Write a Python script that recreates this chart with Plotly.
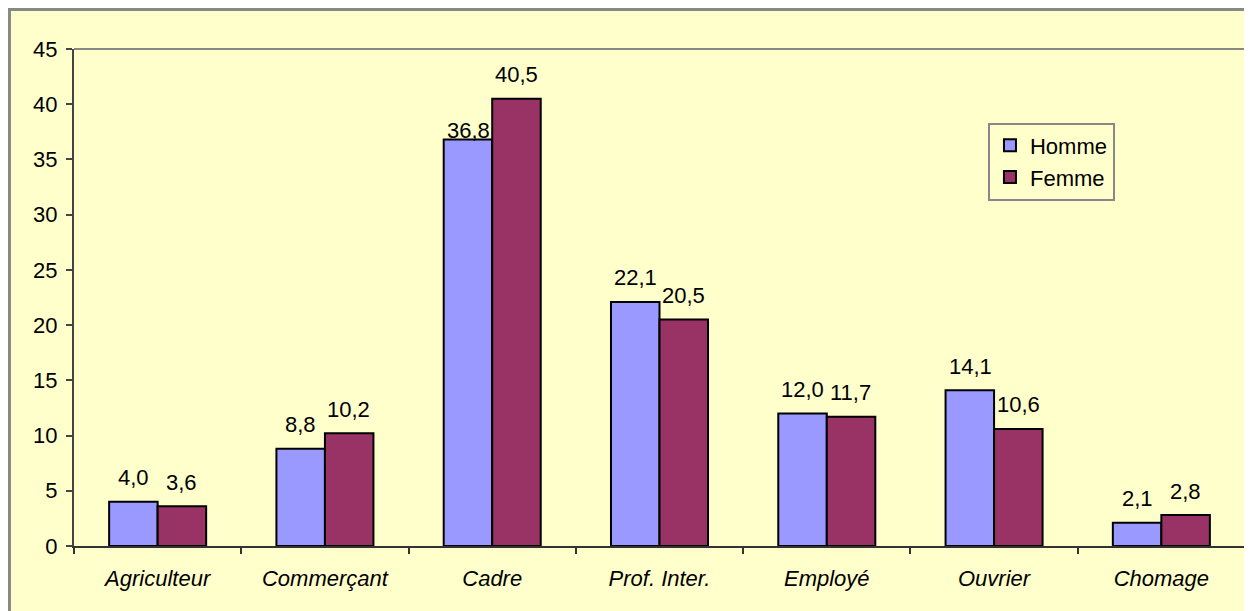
import plotly.graph_objects as go

categories = ["Agriculteur", "Commerçant", "Cadre", "Prof. Inter.", "Employé", "Ouvrier", "Chomage"]
homme = [4.0, 8.8, 36.8, 22.1, 12.0, 14.1, 2.1]
femme = [3.6, 10.2, 40.5, 20.5, 11.7, 10.6, 2.8]
y_ticks = [0, 5, 10, 15, 20, 25, 30, 35, 40, 45]

FONT = "Liberation Sans, Arial, sans-serif"
FS = 22
fmt = lambda v: f"{v:.1f}".replace(".", ",")

fig = go.Figure()
fig.add_trace(go.Bar(name="Homme", x=categories, y=homme, legendgroup="h",
                     marker=dict(color="#9999FF", line=dict(color="black", width=2))))
fig.add_trace(go.Bar(name="Femme", x=categories, y=femme, legendgroup="f",
                     marker=dict(color="#993366", line=dict(color="black", width=2))))

annotations = []
for series, xs in ((homme, -24), (femme, 24)):
    for c, v in zip(categories, series):
        shift = 9 if v == 36.8 else 24
        annotations.append(dict(x=c, y=v, xref="x", yref="y", text=fmt(v), showarrow=False,
                                xshift=xs, yshift=shift, yanchor="middle",
                                font=dict(family=FONT, size=FS, color="black")))

shapes = [
    # outer chart frame
    dict(type="rect", xref="paper", yref="paper", x0=-0.0551, y0=-0.3, x1=1.2, y1=1.0795,
         fillcolor="#FFFFCC", line=dict(color="#888888", width=3), layer="below"),
    # plot area top and right borders
    dict(type="line", xref="paper", yref="paper", x0=0, y0=1, x1=1, y1=1,
         line=dict(color="#888888", width=2)),
    dict(type="line", xref="paper", yref="paper", x0=1, y0=0, x1=1, y1=1,
         line=dict(color="#888888", width=2)),
]

fig.update_layout(
    width=1244, height=603,
    margin=dict(l=66, r=7, t=41, b=65),
    paper_bgcolor="white", plot_bgcolor="rgba(0,0,0,0)",
    barmode="group", bargap=0.42, bargroupgap=0,
    font=dict(family=FONT, size=FS, color="black"),
    showlegend=True,
    legend=dict(x=0.7805, y=0.852, xanchor="left", yanchor="top",
                bgcolor="#FFFFCC", bordercolor="#888888", borderwidth=2,
                font=dict(family=FONT, size=FS, color="black"),
                traceorder="grouped", tracegroupgap=0, itemwidth=30),
    annotations=annotations,
    shapes=shapes,
)
fig.update_xaxes(type="category", showgrid=False, showline=True, linecolor="#333333", linewidth=2,
                 ticks="outside", tickson="boundaries", ticklen=6, tickcolor="#333333", tickwidth=2,
                 tickfont=dict(family=FONT, size=FS, style="italic"), ticklabelstandoff=12)
fig.update_yaxes(range=[0, 45], tickvals=y_ticks, showgrid=False, zeroline=False,
                 showline=True, linecolor="#444444", linewidth=2,
                 ticks="outside", ticklen=6, tickcolor="#444444", tickwidth=2,
                 tickfont=dict(family=FONT, size=FS), ticklabelstandoff=4)

fig.write_html("out.html")
